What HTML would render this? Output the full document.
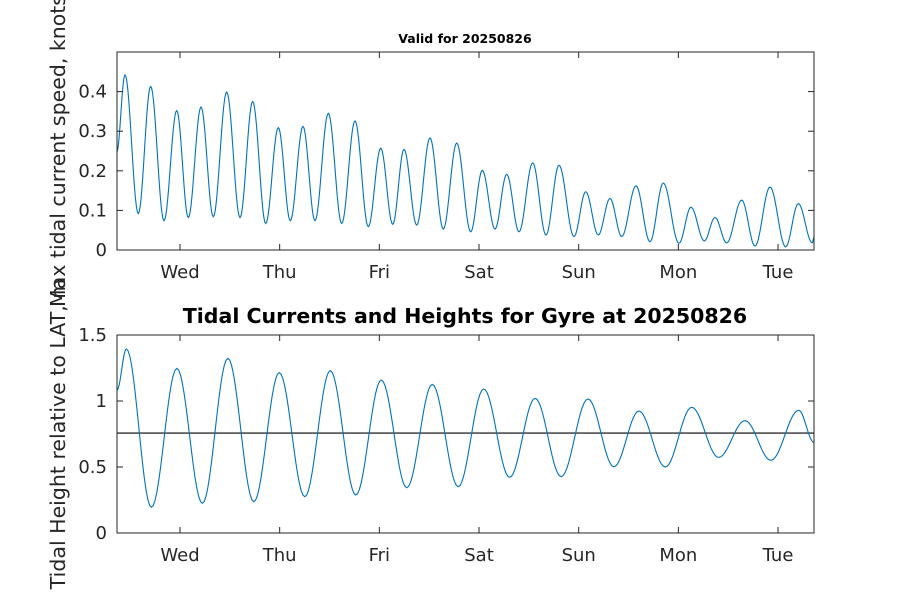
<!DOCTYPE html>
<html><head><meta charset="utf-8"><style>
body{margin:0;background:#fff;}
svg{display:block;font-family:"DejaVu Sans","Liberation Sans",sans-serif;}
</style></head><body>
<svg id="c" width="900" height="600" viewBox="0 0 900 600"></svg>
<script>
// data (hours relative to Wed 00:00)
const dayLabels = ["Wed","Thu","Fri","Sat","Sun","Mon","Tue"];
const xDomain = [-15.17, 152.66];
const speedTimes = [-15.24,-13.24,-10.04,-7.06,-3.85,-0.79,2.0,5.06,8.02,11.24,14.45,17.5,20.64,23.67,26.56,29.62,32.5,35.71,38.94,42.14,45.34,48.33,51.22,53.94,57.0,60.2,63.4,66.63,70.0,72.79,75.85,78.67,81.63,84.93,88.13,91.26,94.87,97.69,100.72,103.54,106.36,109.8,113.17,116.37,120.15,123.04,126.25,128.82,131.64,135.25,138.45,142.07,145.84,148.88,152.25,152.66];
const speedValues = [0.247,0.442,0.092,0.413,0.074,0.352,0.082,0.361,0.084,0.399,0.082,0.375,0.067,0.309,0.074,0.312,0.074,0.345,0.067,0.326,0.059,0.257,0.065,0.254,0.063,0.283,0.053,0.27,0.046,0.201,0.053,0.191,0.046,0.22,0.038,0.214,0.034,0.147,0.038,0.13,0.034,0.162,0.021,0.169,0.017,0.108,0.023,0.082,0.018,0.126,0.01,0.159,0.008,0.117,0.018,0.032];
const heightTimes = [-15.17,-12.91,-6.89,-0.75,5.39,11.53,17.77,23.91,30.05,36.19,42.33,48.47,54.61,60.75,66.99,73.13,79.37,85.51,91.77,98.24,104.48,110.5,116.86,123.21,129.69,136.05,142.28,148.98,152.66];
const heightValues = [1.083,1.394,0.195,1.247,0.225,1.323,0.237,1.215,0.275,1.23,0.288,1.159,0.343,1.126,0.351,1.091,0.422,1.02,0.427,1.015,0.502,0.924,0.5,0.952,0.573,0.851,0.551,0.929,0.687];
const meanHeight = 0.757;
const speedTicks = [0,0.1,0.2,0.3,0.4];
const speedTickLabels = ["0","0.1","0.2","0.3","0.4"];
const heightTicks = [0,0.5,1,1.5];
const heightTickLabels = ["0","0.5","1","1.5"];

const NS="http://www.w3.org/2000/svg";
const svg=document.getElementById('c');
function mk(tag,attrs,parent){const e=document.createElementNS(NS,tag);for(const k in attrs)e.setAttribute(k,attrs[k]);(parent||svg).appendChild(e);return e;}
const L=117,R=814;
function xs(h){return L+(h-xDomain[0])/(xDomain[1]-xDomain[0])*(R-L);}

function panel(name,top,bottom,yMax,ticks,tickLabels,times,vals,meanV){
  const g=mk('g',{});
  
  
  const ys=v=>bottom-v/yMax*(bottom-top);
  let d='M'+xs(times[0]).toFixed(2)+' '+ys(vals[0]).toFixed(2);
  for(let i=0;i<times.length-1;i++){
    const t0=times[i],t1=times[i+1],a=vals[i],b=vals[i+1];
    for(let k=1;k<=14;k++){const f=k/14;const v=a+(b-a)*(1-Math.cos(Math.PI*f))/2;
      d+=' L'+xs(t0+(t1-t0)*f).toFixed(2)+' '+ys(v).toFixed(2);}
  }
  if(meanV!==null){
    const m=mk('line',{x1:L,x2:R,y1:ys(meanV),y2:ys(meanV),stroke:'#000','stroke-width':1.2},g);
    
    
  }
  const p=mk('path',{d:d,fill:'none',stroke:'#0072bd','stroke-width':1.1},g);
  
  
  const box=mk('rect',{x:L,y:top,width:R-L,height:bottom-top,fill:'none',stroke:'#262626','stroke-width':1},g);
  
  
  ticks.forEach((v,i)=>{
    const y=ys(v);
    mk('line',{x1:L,x2:L+6,y1:y,y2:y,stroke:'#262626'},g);
    mk('line',{x1:R,x2:R-6,y1:y,y2:y,stroke:'#262626'},g);
    const t=mk('text',{x:107,y:y+6,'text-anchor':'end','font-size':18,fill:'#262626'},g);
    t.textContent=tickLabels[i];
    
    
  });
  dayLabels.forEach((lab,i)=>{
    const x=xs(i*24);
    mk('line',{x1:x,x2:x,y1:bottom,y2:bottom-6,stroke:'#262626'},g);
    mk('line',{x1:x,x2:x,y1:top,y2:top+6,stroke:'#262626'},g);
    const t=mk('text',{x:x,y:bottom+28,'text-anchor':'middle','font-size':18,fill:'#262626'},g);
    t.textContent=lab;
    
    
  });
}
panel('current-speed-panel',52,250,0.5,speedTicks,speedTickLabels,speedTimes,speedValues,null);
panel('tidal-height-panel',335,533,1.5,heightTicks,heightTickLabels,heightTimes,heightValues,meanHeight);

let t=mk('text',{x:465,y:43,'text-anchor':'middle','font-size':12.5,'font-weight':'bold',fill:'#000'});
t.textContent='Valid for 20250826';


t=mk('text',{x:465,y:323,'text-anchor':'middle','font-size':20.5,'font-weight':'bold',fill:'#000'});
t.textContent='Tidal Currents and Heights for Gyre at 20250826';


t=mk('text',{x:0,y:0,'text-anchor':'middle','font-size':20.5,fill:'#262626',transform:'translate(65,151) rotate(-90)'});
t.textContent='Max tidal current speed, knots';


t=mk('text',{x:0,y:0,'text-anchor':'middle','font-size':20.5,fill:'#262626',transform:'translate(65,434) rotate(-90)'});
t.textContent='Tidal Height relative to LAT, m';


</script>
</body></html>
